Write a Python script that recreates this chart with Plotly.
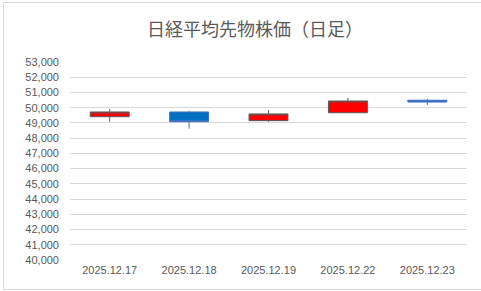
import plotly.graph_objects as go

dates = ['2025.12.17', '2025.12.18', '2025.12.19', '2025.12.22', '2025.12.23']
open_ = [49410, 49720, 49150, 49670, 50490]
high = [49910, 49800, 49850, 50640, 50570]
low = [49080, 48620, 49080, 49670, 50180]
close = [49720, 49080, 49590, 50440, 50370]
y_ticks = list(range(40000, 53001, 1000))
y_labels = [f"{v:,}" for v in y_ticks]

fig = go.Figure()
fig.add_trace(go.Candlestick(
    x=dates, open=open_, high=high, low=low, close=close,
    increasing=dict(fillcolor='#FF0000', line=dict(color='#595959', width=1)),
    decreasing=dict(fillcolor='#0070C0', line=dict(color='#4472C4', width=1)),
    whiskerwidth=0, showlegend=False, hoverinfo='skip'))

W, H = 481, 291
L, R, T, B = 70, 14, 62, 31
pw, ph = W - L - R, H - T - B

def px(x):
    return (x - L) / pw

def py(y):
    return (H - B - y) / ph

line = dict(color='#D9D9D9', width=1)
fig.add_shape(type='line', xref='paper', yref='paper', x0=px(3), x1=px(W), y0=py(2.5), y1=py(2.5), line=line)
fig.add_shape(type='line', xref='paper', yref='paper', x0=px(3.5), x1=px(3.5), y0=py(2.5), y1=py(289), line=line)
fig.add_shape(type='line', xref='paper', yref='paper', x0=px(3), x1=px(W), y0=py(289.5), y1=py(289.5), line=line)

fig.update_layout(
    width=W, height=H,
    margin=dict(l=L, r=R, t=T, b=B),
    paper_bgcolor='white', plot_bgcolor='white',
    title=dict(text='日経平均先物株価（日足）', x=px(255), xref='paper', xanchor='center',
               y=1 - 30 / H, yanchor='middle',
               font=dict(family='Noto Sans CJK JP', size=18, color='#595959')),
    xaxis=dict(type='category', range=[-0.5, 4.5], rangeslider=dict(visible=False),
               showgrid=False, showline=False, ticks='', ticklabelstandoff=2,
               tickfont=dict(family='Liberation Sans', size=11, color='#595959')),
    yaxis=dict(range=[40000, 53000], tickvals=y_ticks, ticktext=y_labels,
               showgrid=True, gridcolor='#D9D9D9', gridwidth=1, zeroline=False,
               showline=False, ticks='', ticklen=0, ticklabelstandoff=10,
               tickfont=dict(family='Liberation Sans', size=11, color='#595959')),
)

fig.write_html('out.html')
